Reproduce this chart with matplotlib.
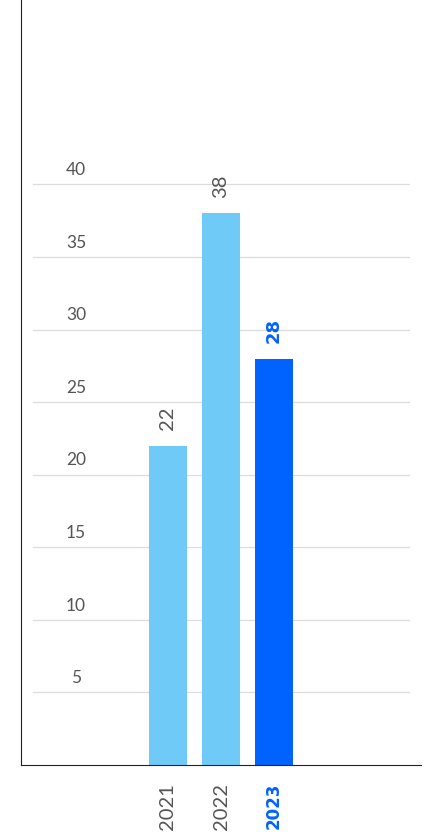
#!/usr/bin/env python3
"""Bar chart of yearly values with rotated labels."""

import matplotlib
matplotlib.use('Agg')
import matplotlib.pyplot as plt
import matplotlib.transforms as mtransforms

years = ['2021', '2022', '2023']
values = [22, 38, 28]
highlight = [False, False, True]
y_ticks = [5, 10, 15, 20, 25, 30, 35, 40]

LIGHT = '#70CAF8'
DARK = '#0062FF'
TEXT = '#555555'

plt.rcParams['font.family'] = ['Lato', 'DejaVu Sans']

fig = plt.figure(figsize=(4.25, 8.35), dpi=100)
ax = fig.add_axes([21 / 425, 70 / 835, 400 / 425, 765 / 835])

xs = list(range(len(years)))
colors = [DARK if h else LIGHT for h in highlight]
ax.bar(xs, values, width=0.72, color=colors, zorder=2)

ax.set_xlim(-2.77, 4.77)
ax.set_ylim(0, 52.7)

# Gridlines (not full width) with labels sitting above them
trans = mtransforms.blended_transform_factory(ax.transAxes, ax.transData)
for t in y_ticks:
    ax.axhline(t, xmin=0.03, xmax=0.97, color='#dddddd', linewidth=0.9, zorder=1)
    ax.annotate(str(t), xy=(0.1375, t), xycoords=trans, xytext=(0, 4.5),
                textcoords='offset points', ha='center', va='bottom',
                fontsize=12.5, color=TEXT)

# Value labels above the bars
for x, v, h in zip(xs, values, highlight):
    if h:
        ax.annotate(str(v), xy=(x, v), xytext=(0, 11), textcoords='offset points',
                    rotation=90, ha='center', va='bottom', fontsize=13,
                    color=DARK, fontweight='bold', family='DejaVu Sans')
    else:
        ax.annotate(str(v), xy=(x, v), xytext=(0, 11), textcoords='offset points',
                    rotation=90, ha='center', va='bottom', fontsize=14.5,
                    color=TEXT)

ax.set_xticks(xs)
ax.set_xticklabels(years, rotation=90, fontsize=14.5)
for lbl, h in zip(ax.get_xticklabels(), highlight):
    lbl.set_color(DARK if h else TEXT)
    if h:
        lbl.set_fontweight('bold')
        lbl.set_family('DejaVu Sans')
        lbl.set_fontsize(12)
ax.tick_params(axis='x', length=0, pad=13)
ax.set_yticks([])

ax.spines['top'].set_visible(False)
ax.spines['right'].set_visible(False)
ax.spines['left'].set_color('#222222')
ax.spines['bottom'].set_color('#222222')

fig.savefig('out.png', dpi=100, facecolor='white')
